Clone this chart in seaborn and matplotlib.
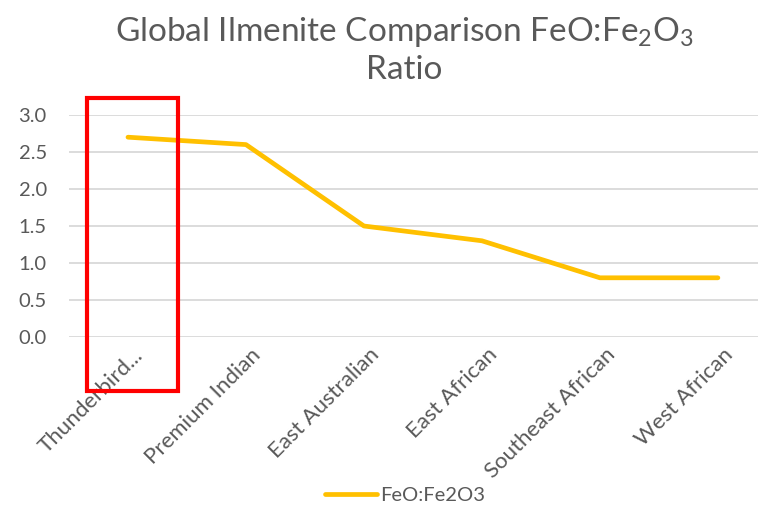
import pandas as pd
import matplotlib
matplotlib.use('Agg')
import matplotlib.pyplot as plt
import matplotlib.transforms as mtransforms
import seaborn as sns
from matplotlib.patches import Rectangle

# Veriler
categories = ['Thunderbird...', 'Premium Indian', 'East Australian', 'East African',
              'Southeast African', 'West African']
ratio_values = [2.7, 2.6, 1.5, 1.3, 0.8, 0.8]
y_ticks = [0.0, 0.5, 1.0, 1.5, 2.0, 2.5, 3.0]

data = pd.DataFrame({'Source': categories, 'Ratio': ratio_values})

sns.set_theme(style='white')
plt.rcParams['font.family'] = ['Lato', 'DejaVu Sans']
plt.rcParams['mathtext.fontset'] = 'custom'
plt.rcParams['mathtext.rm'] = 'Lato'
plt.rcParams['mathtext.it'] = 'Lato'
plt.rcParams['mathtext.default'] = 'regular'

gray = '#595959'

fig = plt.figure(figsize=(7.58, 5.09), dpi=100)
ax = fig.add_axes([69 / 758, 1 - 337 / 509, 1 - 69 / 758, (337 - 115) / 509])

sns.lineplot(x='Source', y='Ratio', data=data, ax=ax, sort=False, color='#FFC000',
             linewidth=3.4, solid_capstyle='round', label='FeO:Fe2O3', legend=False)

ax.set_xlim(-0.5, 5.34)
ax.set_ylim(0, 3.0)
ax.set_yticks(y_ticks)
ax.set_yticklabels([f'{v:.1f}' for v in y_ticks], color=gray, fontsize=14.5)
ax.tick_params(axis='y', length=0, pad=16)
ax.tick_params(axis='x', length=0, pad=2)
ax.set_xticks(range(len(categories)))
ax.set_xticklabels(categories, rotation=45, ha='right', va='center',
                   rotation_mode='anchor', color=gray, fontsize=16)
ax.set_xlabel('')
ax.set_ylabel('')
ax.grid(axis='y', color='#d9d9d9', linewidth=1.3)
ax.set_axisbelow(True)
for s in ax.spines.values():
    s.set_visible(False)

# x etiketlerini biraz sağa kaydır
offset = mtransforms.ScaledTranslation(12 / 100, -12 / 100, fig.dpi_scale_trans)
for lbl in ax.get_xticklabels():
    lbl.set_transform(lbl.get_transform() + offset)

fig.text(404 / 758, 1 - 32 / 509, 'Global Ilmenite Comparison FeO:Fe$_2$O$_3$',
         ha='center', va='center', fontsize=24, color=gray)
fig.text(404 / 758, 1 - 70 / 509, 'Ratio', ha='center', va='center', fontsize=24, color=gray)

handles, labels = ax.get_legend_handles_labels()
fig.legend(handles, labels, loc='center', bbox_to_anchor=(405 / 758, 1 - 495 / 509),
           frameon=False, fontsize=14.5, labelcolor=gray, handlelength=2.6, handletextpad=0.15)

# Kırmızı vurgu kutusu
fig.add_artist(Rectangle((87 / 758, 1 - 391 / 509), 91 / 758, 293 / 509,
                         transform=fig.transFigure, fill=False, edgecolor='red', linewidth=3))

plt.savefig('out.png', dpi=100)
